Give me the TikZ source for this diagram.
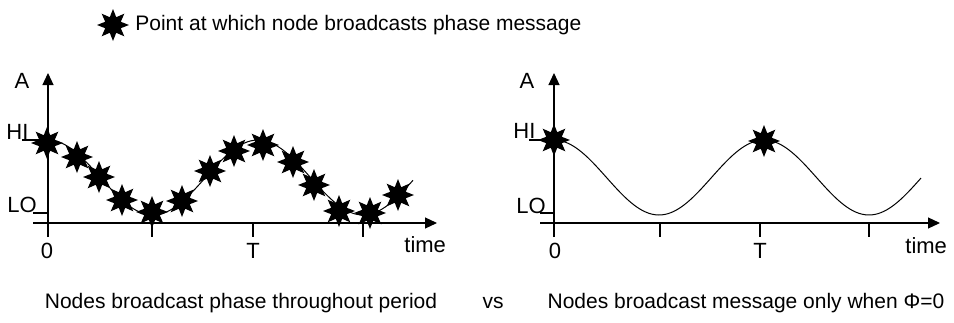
\documentclass[tikz,border=0pt]{standalone}
\usepackage{fontspec}
\setmainfont{Liberation Sans}
\usetikzlibrary{positioning, arrows.meta, shapes.geometric}

\begin{document}
\begin{tikzpicture}[
    x=0.5pt, y=-0.5pt,
    axis/.style={-{Triangle[length=6pt, width=5.5pt]}, line width=0.6pt},
    tick/.style={line width=0.6pt},
    wave/.style={line width=0.5pt},
    burst/.style={star, star points=8, star point ratio=1.9, minimum size=16pt, inner sep=0pt, fill=black},
    lbl/.style={inner sep=0pt, font=\fontsize{10.5}{12}\selectfont},
    axlbl/.style={inner sep=0pt, font=\fontsize{11}{13}\selectfont}
]
\useasboundingbox (0,0) rectangle (954,322);

% Legend
\node[burst] (key) at (113,25) {};
\node[lbl, anchor=base west] (keytext) at (135,30) {Point at which node broadcasts phase message};

% Left plot: axes
\coordinate (lyb) at (48,237);
\coordinate (lyt) at (48,73);
\coordinate (lxl) at (33,223);
\coordinate (lxr) at (437,223);
\draw[axis] (lyb) -- (lyt);
\draw[axis] (lxl) -- (lxr);
\draw[tick] (22,140) -- (48,140);
\draw[tick] (33,213) -- (48,213);
\foreach \t in {152,253,363}
  \draw[tick] (\t,223) -- (\t,237);

\node[axlbl, anchor=base] (la) at (22,88) {A};
\node[axlbl, anchor=base west] (lhi) at (6,139) {HI};
\node[axlbl, anchor=base west] (llo) at (7,212) {LO};
\node[axlbl, anchor=base] (lzero) at (47,258) {0};
\node[axlbl, anchor=base] (lper) at (253,258) {T};
\node[axlbl, anchor=base west] (ltime) at (404,252) {time};

\draw[wave] plot[domain=48:413, samples=120, smooth] (\x, {177.5-37.5*cos((\x-48)/210*360)});

% Broadcast points, all through the period
\foreach \px/\py [count=\i] in {47/143, 77/157, 99/177, 122/200, 152/212, 182/201, 210/171,
    234/151, 263/145, 293/162, 314/185, 339/211, 370/213, 398/195}
  \node[burst] (b\i) at (\px,\py) {};

% Right plot: axes
\coordinate (ryb) at (554,237);
\coordinate (ryt) at (554,73);
\coordinate (rxl) at (540,223);
\coordinate (rxr) at (940,223);
\draw[axis] (ryb) -- (ryt);
\draw[axis] (rxl) -- (rxr);
\draw[tick] (529,140) -- (554,140);
\draw[tick] (540,213) -- (554,213);
\foreach \t in {660,760,869}
  \draw[tick] (\t,223) -- (\t,237);

\node[axlbl, anchor=base] (ra) at (527,88) {A};
\node[axlbl, anchor=base west] (rhi) at (513,138) {HI};
\node[axlbl, anchor=base west] (rlo) at (516,213) {LO};
\node[axlbl, anchor=base] (rzero) at (555,258) {0};
\node[axlbl, anchor=base] (rper) at (760,258) {T};
\node[axlbl, anchor=base west] (rtime) at (905,253) {time};

\draw[wave] plot[domain=554:921, samples=120, smooth] (\x, {177.5-37.5*cos((\x-554)/210*360)});

% Broadcast points, only at phase zero
\node[burst] (r1) at (554,140) {};
\node[burst] (r2) at (764,141) {};

% Captions
\node[lbl, anchor=base] (capl) at (241,308) {Nodes broadcast phase throughout period};
\node[lbl, anchor=base] (vs) at (493,308) {vs};
\node[lbl, anchor=base] (capr) at (746,308) {Nodes broadcast message only when Φ=0};

\end{tikzpicture}
\end{document}
